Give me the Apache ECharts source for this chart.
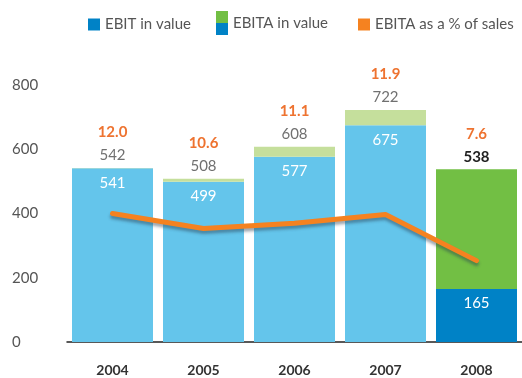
<!DOCTYPE html>
<html>
<head>
<meta charset="utf-8">
<script src="https://cdn.jsdelivr.net/npm/echarts@6/dist/echarts.min.js"></script>
<style>
  html, body { margin: 0; padding: 0; background: #fff; }
  #chart { width: 522px; height: 378px; }
</style>
</head>
<body>
<div id="chart"></div>
<script>
// Yearly figures
const years = ['2004', '2005', '2006', '2007', '2008'];
const ebitValues = [541, 499, 577, 675, 165];
const ebitaValues = [542, 508, 608, 722, 538];
const ebitaPctOfSales = [12.0, 10.6, 11.1, 11.9, 7.6];
const yTicks = [0, 200, 400, 600, 800];

// Palette: earlier years in pale tones, the latest year in strong tones
const LIGHT_BLUE = '#64C5EB';
const DARK_BLUE = '#0082C6';
const LIGHT_GREEN = '#C5DF9C';
const GREEN = '#72BF44';
const ORANGE = '#F58220';
const PCT_TEXT = '#EE7330';
const FONT = 'Lato, "Open Sans", sans-serif';

const lastIdx = years.length - 1;

const splitIcon = 'image://data:image/svg+xml;charset=utf-8,' + encodeURIComponent(
  '<svg xmlns="http://www.w3.org/2000/svg" width="12" height="24">' +
  '<rect x="0" y="0" width="12" height="12" fill="' + GREEN + '"/>' +
  '<rect x="0" y="12" width="12" height="12" fill="' + DARK_BLUE + '"/></svg>'
);

const legendText = { color: '#555', fontSize: 15, fontFamily: FONT };

const chart = echarts.init(document.getElementById('chart'), null, { renderer: 'canvas' });

chart.setOption({
  animation: false,
  backgroundColor: '#fff',
  textStyle: { fontFamily: FONT },
  legend: [
    {
      data: [{ name: 'EBIT in value', icon: 'rect' }],
      left: 88, top: 17, itemWidth: 12, itemHeight: 12,
      textStyle: legendText, padding: 0
    },
    {
      data: [{ name: 'EBITA in value', icon: splitIcon }],
      left: 216, top: 11, itemWidth: 12, itemHeight: 24,
      textStyle: legendText, padding: 0
    },
    {
      data: [{ name: 'EBITA as a % of sales', icon: 'rect' }],
      left: 358, top: 17, itemWidth: 12, itemHeight: 12,
      textStyle: legendText, padding: 0
    }
  ],
  grid: { left: 67, top: 85, width: 457, height: 257 },
  xAxis: {
    type: 'category',
    data: years,
    axisTick: { show: false },
    axisLine: { lineStyle: { color: '#222', width: 1.5 } },
    axisLabel: { color: '#333', fontSize: 14, fontWeight: 'bold', margin: 21, fontFamily: FONT }
  },
  yAxis: [
    {
      type: 'value',
      min: yTicks[0],
      max: yTicks[yTicks.length - 1],
      interval: yTicks[1] - yTicks[0],
      splitLine: { show: false },
      axisLine: { show: false },
      axisTick: { show: false },
      axisLabel: { color: '#555', fontSize: 15, align: 'left', margin: 55, fontFamily: FONT }
    },
    {
      type: 'value',
      min: 0,
      max: 24,
      show: false
    }
  ],
  series: [
    {
      name: 'EBIT in value',
      type: 'bar',
      stack: 'value',
      barWidth: 81,
      itemStyle: { color: DARK_BLUE },
      data: ebitValues.map((v, i) => ({
        value: v,
        itemStyle: { color: i === lastIdx ? DARK_BLUE : LIGHT_BLUE }
      })),
      label: {
        show: true,
        position: 'insideTop',
        distance: 7,
        color: '#fff',
        fontSize: 15,
        fontFamily: FONT
      }
    },
    {
      name: 'EBITA in value',
      type: 'bar',
      stack: 'value',
      barWidth: 81,
      itemStyle: { color: GREEN },
      data: ebitaValues.map((v, i) => ({
        value: v - ebitValues[i],
        itemStyle: { color: i === lastIdx ? GREEN : LIGHT_GREEN }
      })),
      label: {
        show: true,
        position: 'top',
        distance: 1,
        formatter: (p) => {
          const i = p.dataIndex;
          const valStyle = i === lastIdx ? 'vLast' : 'v';
          return '{p|' + ebitaPctOfSales[i].toFixed(1) + '}\n{' + valStyle + '|' + ebitaValues[i] + '}';
        },
        rich: {
          p: { color: PCT_TEXT, fontSize: 15, fontWeight: 'bold', lineHeight: 23, fontFamily: FONT },
          v: { color: '#707070', fontSize: 15, lineHeight: 23, fontFamily: FONT },
          vLast: { color: '#222', fontSize: 15, fontWeight: 'bold', lineHeight: 23, fontFamily: FONT }
        }
      }
    },
    {
      name: 'EBITA as a % of sales',
      type: 'line',
      yAxisIndex: 1,
      data: ebitaPctOfSales,
      symbol: 'none',
      z: 5,
      itemStyle: { color: ORANGE },
      lineStyle: {
        color: ORANGE,
        width: 5,
        cap: 'round',
        join: 'round',
        shadowColor: 'rgba(40, 60, 80, 0.45)',
        shadowBlur: 3,
        shadowOffsetY: 3,
        shadowOffsetX: 0
      }
    }
  ]
});
</script>
</body>
</html>
